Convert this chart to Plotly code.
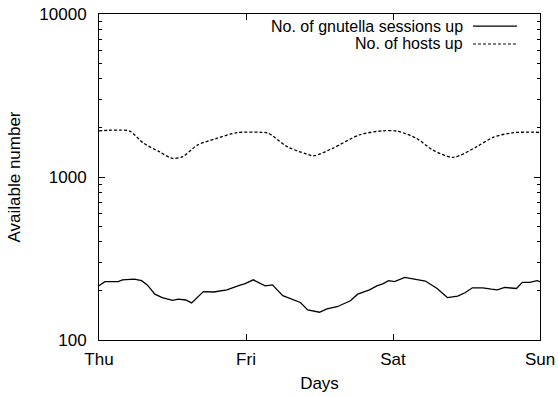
import plotly.graph_objects as go

day_labels = ["Thu", "Fri", "Sat", "Sun"]
day_ticks = [0, 1, 2, 3]
y_ticks = [100, 1000, 10000]

sess_days = [0.00, 0.04, 0.13, 0.16, 0.24, 0.29, 0.33, 0.38, 0.43, 0.47, 0.50, 0.54,
             0.59, 0.63, 0.71, 0.78, 0.87, 0.96, 0.99, 1.05, 1.13, 1.18, 1.25, 1.37,
             1.42, 1.50, 1.55, 1.62, 1.71, 1.76, 1.84, 1.89, 1.93, 1.97, 2.01, 2.08,
             2.15, 2.22, 2.30, 2.37, 2.44, 2.49, 2.54, 2.61, 2.67, 2.71, 2.76, 2.80,
             2.84, 2.88, 2.93, 2.98, 3.00]
sess_vals = [215, 228, 228, 234, 236, 231, 217, 191, 182, 179, 175, 178,
             176, 169, 198, 197, 203, 217, 221, 234, 215, 218, 187, 170,
             153, 148, 155, 160, 174, 191, 203, 215, 221, 231, 228, 242,
             236, 230, 207, 182, 186, 195, 209, 209, 205, 203, 210, 209,
             207, 226, 226, 231, 228]

host_days = [0.00, 0.07, 0.14, 0.21, 0.30, 0.41, 0.50, 0.57, 0.67, 0.80, 0.94,
             1.10, 1.15, 1.28, 1.41, 1.46, 1.59, 1.77, 1.93, 2.03, 2.16, 2.27,
             2.41, 2.57, 2.68, 2.82, 3.00]
host_vals = [1920, 1935, 1940, 1910, 1620, 1430, 1300, 1335, 1570, 1725, 1870,
             1880, 1860, 1535, 1385, 1350, 1500, 1810, 1920, 1910, 1725, 1465,
             1320, 1535, 1750, 1870, 1880]

legend_names = ["No. of gnutella sessions up", "No. of hosts up"]

FONT = "Liberation Sans, Arial, sans-serif"
FS = 17

fig = go.Figure()
fig.add_trace(go.Scatter(x=sess_days, y=sess_vals, mode="lines", name=legend_names[0],
                         line=dict(color="black", width=1.3), showlegend=False))
fig.add_trace(go.Scatter(x=host_days, y=host_vals, mode="lines", name=legend_names[1],
                         line=dict(color="black", width=1.3, dash="3px,2px",
                                   shape="spline", smoothing=0.8),
                         showlegend=False))

# gnuplot-style legend: text right-aligned, sample to the right
leg_y = [0.963, 0.908]
dashes = ["solid", "3px,2px"]
for name, yy, dsh in zip(legend_names, leg_y, dashes):
    fig.add_annotation(xref="paper", yref="paper", x=0.823, y=yy, text=name,
                       showarrow=False, xanchor="right", yanchor="middle",
                       borderpad=0, xshift=2,
                       font=dict(family=FONT, size=16, color="black"))
    fig.add_shape(type="line", xref="paper", yref="paper", x0=0.848, x1=0.948,
                  y0=yy, y1=yy, line=dict(color="black", width=1.2, dash=dsh))

fig.update_layout(
    width=558, height=397,
    margin=dict(l=99, r=18, t=14, b=57),
    paper_bgcolor="white", plot_bgcolor="white",
    font=dict(family=FONT, size=FS, color="black"),
    showlegend=False,
)
fig.update_xaxes(range=[0, 3], tickvals=day_ticks, ticktext=day_labels,
                 ticks="inside", ticklen=6, tickcolor="black", showgrid=False,
                 zeroline=False, showline=True, linecolor="black", linewidth=1,
                 mirror="allticks", ticklabelstandoff=4, automargin=False,
                 tickfont=dict(family=FONT, size=FS, color="black"),
                 title=dict(text="Days", standoff=8,
                            font=dict(family=FONT, size=FS, color="black")))
fig.update_yaxes(type="log", range=[2, 4], tickvals=y_ticks,
                 ticktext=[str(v) for v in y_ticks],
                 ticks="inside", ticklen=6, tickcolor="black", showgrid=False,
                 zeroline=False, showline=True, linecolor="black", linewidth=1,
                 mirror="allticks", ticklabelstandoff=8, automargin=False,
                 tickfont=dict(family=FONT, size=FS, color="black"),
                 minor=dict(ticks="inside", ticklen=3, tickcolor="black", dtick="D1", showgrid=False),
                 title=dict(text="Available number", standoff=14,
                            font=dict(family=FONT, size=FS, color="black")))

fig.write_html("out.html")
